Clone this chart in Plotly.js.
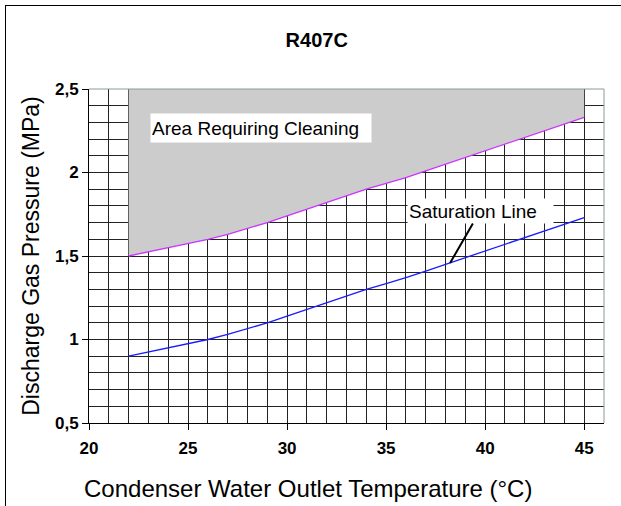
<!DOCTYPE html>
<html>
<head>
<meta charset="utf-8">
<script src="https://cdn.plot.ly/plotly-3.0.1.min.js"></script>
<style>
html,body{margin:0;padding:0;background:#fff;}
#wrap{position:relative;width:621px;height:506px;}
#frame{position:absolute;left:5px;top:5px;width:640px;height:520px;border-left:1px solid #000;border-top:1px solid #000;box-sizing:border-box;}
#chart{position:absolute;left:0;top:0;width:621px;height:506px;}
</style>
</head>
<body>
<div id="wrap"><div id="frame"></div><div id="chart"></div></div>
<script>
const temps = [22,23,24,25,26,27,28,29,30,31,32,33,34,35,36,37,38,39,40,41,42,43,44,45];
const saturation = [0.90,0.925,0.95,0.975,1.00,1.03,1.065,1.10,1.14,1.18,1.22,1.26,1.30,1.335,1.37,1.41,1.45,1.49,1.53,1.57,1.61,1.65,1.69,1.73];
const cleaningLimit = [1.50,1.525,1.55,1.575,1.60,1.63,1.665,1.70,1.74,1.78,1.82,1.86,1.90,1.935,1.97,2.01,2.05,2.09,2.13,2.17,2.21,2.25,2.29,2.33];
const yMax = 2.5;
const xTicks = [20,25,30,35,40,45];
const yTicks = [0.5,1,1.5,2,2.5];
const yTickText = ['0,5','1','1,5','2','2,5'];

const areaX = temps.concat([temps[temps.length-1], temps[0]]);
const areaY = cleaningLimit.concat([yMax, yMax]);

const FAM = 'Liberation Sans, Arial, sans-serif';
const traces = [
  {x: areaX, y: areaY, type:'scatter', mode:'lines', fill:'toself', fillcolor:'#cccccc', line:{width:0, color:'#cccccc'}, hoverinfo:'skip', showlegend:false},
  {x: temps, y: cleaningLimit, type:'scatter', mode:'lines', line:{color:'#cc33ff', width:1.3}, showlegend:false},
  {x: temps, y: saturation, type:'scatter', mode:'lines', line:{color:'#1a1aff', width:1.3}, showlegend:false}
];

const tickFont = {family:FAM, size:17, color:'#000', weight:'bold'};
const layout = {
  width:621, height:506,
  margin:{l:89, r:17, t:89, b:83},
  paper_bgcolor:'rgba(0,0,0,0)', plot_bgcolor:'#fff',
  showlegend:false,
  title:{text:'R407C', x:0.51, xref:'container', y:0.921, yref:'container', yanchor:'middle', xanchor:'center', font:{family:FAM, size:20, color:'#000', weight:'bold'}},
  xaxis:{range:[20,46], tickvals:xTicks, ticktext:xTicks.map(String), tickfont:tickFont,
    ticks:'outside', ticklen:6, tickcolor:'#000', showline:true, linecolor:'#000', linewidth:1, ticklabelstandoff:4,
    showgrid:true, gridcolor:'#222', gridwidth:1, zeroline:false,
    minor:{dtick:1, tick0:20, showgrid:true, gridcolor:'#222', gridwidth:1, ticks:''},
    fixedrange:true},
  yaxis:{range:[0.5,2.5], tickvals:yTicks, ticktext:yTickText, tickfont:tickFont,
    ticks:'outside', ticklen:6, tickcolor:'#000', showline:true, linecolor:'#000', linewidth:1,
    showgrid:true, gridcolor:'#222', gridwidth:1, zeroline:false,
    minor:{dtick:0.1, tick0:0.5, showgrid:true, gridcolor:'#222', gridwidth:1, ticks:''},
    title:{text:'Discharge Gas Pressure (MPa)', font:{family:FAM, size:23, color:'#000'}, standoff:8},
    fixedrange:true},
  shapes:[
    {type:'line', xref:'paper', yref:'paper', x0:0, x1:1, y0:1, y1:1, line:{color:'#8a9a9a', width:1}},
    {type:'line', xref:'paper', yref:'paper', x0:1, x1:1, y0:0, y1:1, line:{color:'#8a9a9a', width:1}}
  ],
  annotations:[
    {xref:'paper', yref:'paper', x:0.425, y:-0.195, yanchor:'middle', xanchor:'center', showarrow:false,
     text:'Condenser Water Outlet Temperature (°C)', font:{family:FAM, size:24, color:'#000'}},
    {x:23.08, y:2.266, xanchor:'left', yanchor:'middle', showarrow:false, text:'Area Requiring Cleaning',
     width:218, height:26, align:'left', bgcolor:'#fff', borderpad:1, font:{family:FAM, size:19, color:'#000'}},
    {x:38.23, y:1.458, ax:30, ay:-52, showarrow:true, arrowhead:0, arrowwidth:2, arrowcolor:'#000', text:'Saturation Line',
     width:143, height:22, align:'left', bgcolor:'#fff', borderpad:1, font:{family:FAM, size:19, color:'#000'}}
  ]
};
Plotly.newPlot('chart', traces, layout, {displayModeBar:false, staticPlot:true});
</script>
</body>
</html>
